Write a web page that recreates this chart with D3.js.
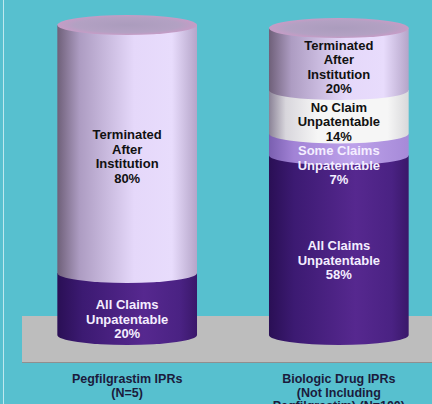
<!DOCTYPE html>
<html>
<head>
<meta charset="utf-8">
<script src="https://cdn.jsdelivr.net/npm/d3@7"></script>
<style>
  html, body { margin: 0; padding: 0; background: #57c0cf; }
  svg { display: block; }
  text { font-family: "Liberation Sans", Arial, sans-serif; font-weight: bold; }
</style>
</head>
<body>
<div id="chart-area"></div>
<script>
var w = 432;
var h = 404;

// data
const categories = ["Pegfilgrastim", "Biologic"];
const captions = [
  ["Pegfilgrastim IPRs", "(N=5)"],
  ["Biologic Drug IPRs", "(Not Including", "Pegfilgrastim) (N=100)"]
];
const segmentKeys = ["all", "some", "none", "terminated"];
const segmentLabels = [
  ["All Claims", "Unpatentable"],
  ["Some Claims", "Unpatentable"],
  ["No Claim", "Unpatentable"],
  ["Terminated", "After", "Institution"]
];
const pegValues = [20, 0, 0, 80];
const biologicValues = [58, 7, 14, 20];

const rows = [pegValues, biologicValues].map((vals, i) => {
  const r = { cat: categories[i] };
  segmentKeys.forEach((k, j) => r[k] = vals[j]);
  return r;
});

const series = d3.stack().keys(segmentKeys)(rows);

const x = d3.scaleBand()
  .domain(categories)
  .range([15, 451])
  .paddingInner(0.34)
  .paddingOuter(0.2);

const y = d3.scaleLinear()
  .domain([0, 100])
  .range([335, 25]);

const ry = 10;

const svg = d3.select("#chart-area").append("svg")
  .attr("width", w)
  .attr("height", h);

const defs = svg.append("defs");
function grad(id, stops) {
  const g = defs.append("linearGradient").attr("id", id)
    .attr("x1", "0%").attr("x2", "100%").attr("y1", "0%").attr("y2", "0%");
  stops.forEach(s => g.append("stop").attr("offset", s[0]).attr("stop-color", s[1]));
}
grad("g-all", [["0%", "#2a0f55"], ["18%", "#3c1a72"], ["62%", "#56288f"], ["88%", "#4a2283"], ["100%", "#3a186a"]]);
grad("g-some", [["0%", "#7a5fb0"], ["18%", "#a283d6"], ["60%", "#bda2ea"], ["100%", "#a68ad8"]]);
grad("g-none", [["0%", "#8a8296"], ["12%", "#d8d6dc"], ["35%", "#f6f6f6"], ["85%", "#f6f6f6"], ["100%", "#d8d8da"]]);
grad("g-terminated", [["0%", "#6f6079"], ["16%", "#ad9cc2"], ["55%", "#e5d8fa"], ["82%", "#e8dcfc"], ["100%", "#b5a5c9"]]);

const cap = defs.append("radialGradient").attr("id", "g-cap");
[["0%", "#ab9cbd"], ["75%", "#b3a1c3"], ["100%", "#c69cc6"]]
  .forEach(s => cap.append("stop").attr("offset", s[0]).attr("stop-color", s[1]));

const fills = d3.scaleOrdinal().domain(segmentKeys)
  .range(["url(#g-all)", "url(#g-some)", "url(#g-none)", "url(#g-terminated)"]);
const textColors = d3.scaleOrdinal().domain(segmentKeys)
  .range(["#f4eeff", "#f4eeff", "#111111", "#111111"]);

// left edge strip
svg.append("line")
  .attr("x1", 3.5).attr("x2", 3.5).attr("y1", 0).attr("y2", h)
  .attr("stroke", "#bfe8ee").attr("stroke-width", 1);

// gray platform
svg.append("rect")
  .attr("x", 22).attr("y", 316)
  .attr("width", 420).attr("height", 47)
  .attr("fill", "#bdbdbd");
svg.append("line")
  .attr("x1", 22).attr("x2", 432).attr("y1", 362.5).attr("y2", 362.5)
  .attr("stroke", "#8f8f8f");

const g = svg.append("g");

function segPath(x0, x1, yTop, yBot) {
  const rx = (x1 - x0) / 2;
  return "M" + x0 + "," + yTop + "L" + x0 + "," + yBot +
    "A" + rx + "," + ry + " 0 0 0 " + x1 + "," + yBot +
    "L" + x1 + "," + yTop + "Z";
}

series.forEach(s => {
  s.forEach(d => {
    if (d[1] - d[0] <= 0) return;
    const x0 = x(d.data.cat), x1 = x0 + x.bandwidth();
    g.append("path")
      .attr("d", segPath(x0, x1, y(d[1]), y(d[0])))
      .attr("fill", fills(s.key));
  });
});

// top caps
rows.forEach(r => {
  const total = d3.sum(segmentKeys, k => r[k]);
  g.append("ellipse")
    .attr("cx", x(r.cat) + x.bandwidth() / 2)
    .attr("cy", y(total))
    .attr("rx", x.bandwidth() / 2)
    .attr("ry", ry)
    .attr("fill", "url(#g-cap)");
});

// segment labels
const lineH = 14.5;
const capH = 9.5;
series.forEach((s, si) => {
  s.forEach(d => {
    const v = d[1] - d[0];
    if (v <= 0) return;
    const lines = segmentLabels[si].concat([v + "%"]);
    const yTop = y(d[1]), yBot = y(d[0]);
    const blockH = (lines.length - 1) * lineH + capH;
    // bottom segment also carries the base arc
    const shift = d[0] === 0 ? 15 : 7;
    let top = (yTop + yBot) / 2 + shift - blockH / 2;
    if (top < yTop + ry + 2) top = yTop + ry + 2;
    const t = g.append("text")
      .attr("text-anchor", "middle")
      .attr("font-size", "13px")
      .attr("fill", textColors(s.key));
    lines.forEach((ln, li) => {
      t.append("tspan")
        .attr("x", x(d.data.cat) + x.bandwidth() / 2)
        .attr("y", top + capH + li * lineH)
        .text(ln);
    });
  });
});

// category captions
categories.forEach((c, i) => {
  const t = svg.append("text")
    .attr("text-anchor", "middle")
    .attr("font-size", "12.5px")
    .attr("fill", "#1b1b3c");
  captions[i].forEach((ln, li) => {
    t.append("tspan")
      .attr("x", x(c) + x.bandwidth() / 2)
      .attr("y", 383 + li * 13.5)
      .text(ln);
  });
});
</script>
</body>
</html>
